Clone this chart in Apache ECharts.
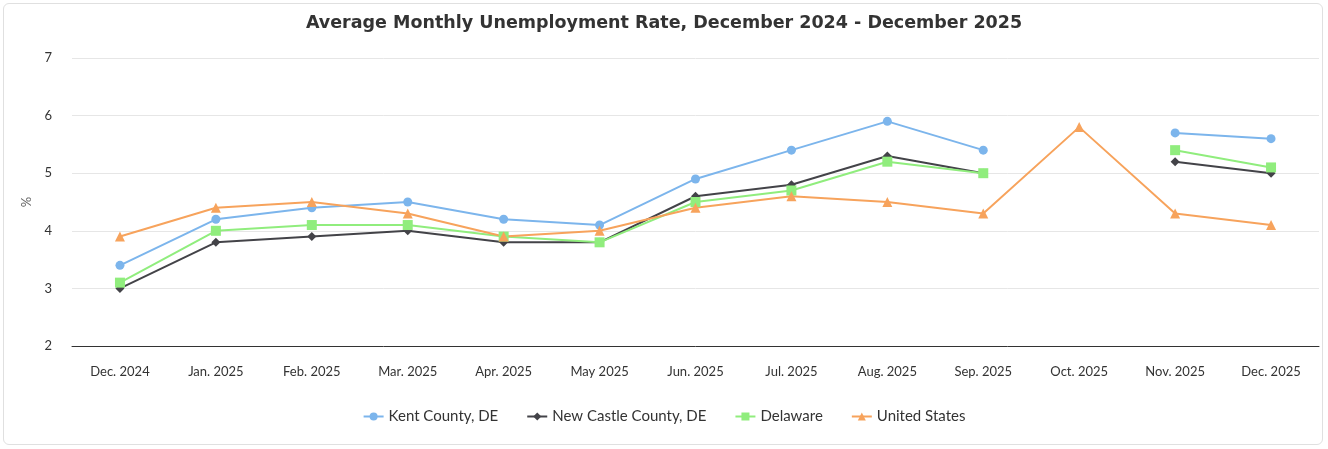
<!DOCTYPE html>
<html><head><meta charset="utf-8">
<script src="https://cdn.jsdelivr.net/npm/echarts@6/dist/echarts.min.js"></script>
<style>html,body{margin:0;padding:0;background:#fff}#wrap{position:absolute;left:3px;top:3px;width:1320px;height:442px;border:1px solid #e0e0e0;border-radius:6px;box-sizing:border-box}#c{position:absolute;left:0;top:0;width:1328px;height:449px}</style>
</head><body><div id="wrap"></div><div id="c"></div>
<script>
const categories = ['Dec. 2024','Jan. 2025','Feb. 2025','Mar. 2025','Apr. 2025','May 2025','Jun. 2025','Jul. 2025','Aug. 2025','Sep. 2025','Oct. 2025','Nov. 2025','Dec. 2025'];
const kent = [3.4,4.2,4.4,4.5,4.2,4.1,4.9,5.4,5.9,5.4,null,5.7,5.6];
const newCastle = [3.0,3.8,3.9,4.0,3.8,3.8,4.6,4.8,5.3,5.0,null,5.2,5.0];
const delaware = [3.1,4.0,4.1,4.1,3.9,3.8,4.5,4.7,5.2,5.0,null,5.4,5.1];
const unitedStates = [3.9,4.4,4.5,4.3,3.9,4.0,4.4,4.6,4.5,4.3,5.8,4.3,4.1];
const yTicks = [2,3,4,5,6,7];

const chart = echarts.init(document.getElementById('c'));
function s(name, data, color, symbol, size){
  return {name, type:'line', data, color, symbol, symbolSize:size, connectNulls:false,
    lineStyle:{width:2, color}, itemStyle:{color}, emphasis:{disabled:true}};
}
chart.setOption({
  animation:false,
  title:{text:'Average Monthly Unemployment Rate, December 2024 - December 2025', left:'center', top:9,
    textStyle:{fontFamily:'DejaVu Sans', fontSize:17.5, fontWeight:'bold', color:'#333'}},
  grid:{left:72, right:9, top:58, bottom:103, containLabel:false},
  legend:{bottom:20, left:'center', itemGap:28, itemWidth:20, itemHeight:10,
    textStyle:{fontFamily:'Lato, sans-serif', fontSize:15, color:'#333'},
    data:['Kent County, DE','New Castle County, DE','Delaware','United States']},
  xAxis:{type:'category', data:categories, boundaryGap:true,
    axisLine:{lineStyle:{color:'#333', width:1}}, axisTick:{show:false},
    axisLabel:{fontFamily:'Lato, sans-serif', fontSize:13, color:'#333', margin:19}},
  yAxis:{type:'value', min:yTicks[0], max:yTicks[yTicks.length-1], interval:1,
    name:'%', nameLocation:'middle', nameGap:38, nameRotate:90,
    nameTextStyle:{fontFamily:'Lato, sans-serif', fontSize:13, color:'#666'},
    axisLine:{show:false}, axisTick:{show:false},
    axisLabel:{fontFamily:'Lato, sans-serif', fontSize:13, color:'#333', margin:20},
    splitLine:{lineStyle:{color:'#e6e6e6'}}},
  series:[
    s('Kent County, DE', kent, '#7cb5ec', 'circle', 9),
    s('New Castle County, DE', newCastle, '#434348', 'diamond', 9),
    s('Delaware', delaware, '#90ed7d', 'rect', 10),
    s('United States', unitedStates, '#f7a35c', 'triangle', 10)
  ]
});
</script></body></html>
